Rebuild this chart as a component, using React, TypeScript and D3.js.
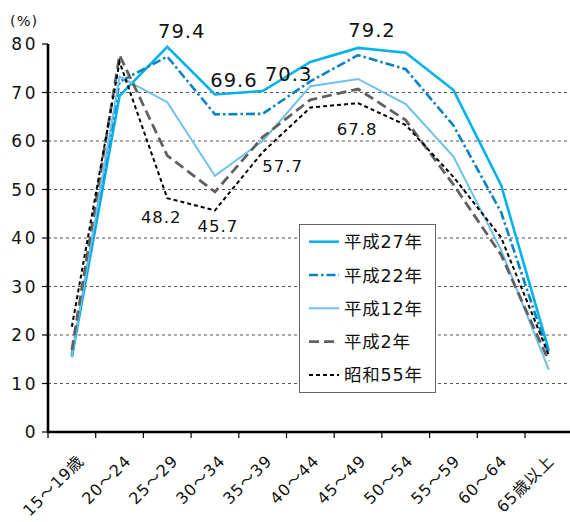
import React from "react";
import * as d3 from "d3";

const categories = ["15～19歳", "20～24", "25～29", "30～34", "35～39", "40～44", "45～49", "50～54", "55～59", "60～64", "65歳以上"];
const seriesNames = ["平成27年", "平成22年", "平成12年", "平成2年", "昭和55年"];
const h27 = [15.4, 69.3, 79.4, 69.6, 70.3, 76.3, 79.2, 78.2, 70.5, 50.9, 16.8];
const h22 = [15.8, 72.2, 77.4, 65.5, 65.6, 72.3, 77.7, 74.8, 63.2, 45.3, 15.9];
const h12 = [15.5, 73.3, 68.0, 52.8, 60.0, 71.3, 72.8, 67.6, 56.8, 37.5, 12.8];
const h2 = [16.9, 77.7, 57.0, 49.5, 60.8, 68.5, 70.7, 64.3, 51.0, 36.5, 14.6];
const s55 = [21.7, 76.3, 48.2, 45.7, 57.7, 66.9, 67.8, 63.3, 52.6, 40.1, 15.8];
const yTicks = [0, 10, 20, 30, 40, 50, 60, 70, 80];
// annotations: series index, category index
const annotations = [
  { s: 0, c: 2, text: "79.4" },
  { s: 0, c: 3, text: "69.6" },
  { s: 0, c: 4, text: "70.3" },
  { s: 0, c: 6, text: "79.2" },
  { s: 4, c: 2, text: "48.2" },
  { s: 4, c: 3, text: "45.7" },
  { s: 4, c: 4, text: "57.7" },
  { s: 4, c: 6, text: "67.8" },
];
const annotationOffsets = [
  [14.5, -8.6, 19.5], [19, -7.4, 19.5], [26, -10, 19.5], [14, -11, 19.5],
  [-6, 25, 16.5], [3, 22, 16.5], [20, 19.5, 16.5], [-1, 32, 16.5],
];

const allSeries = [h27, h22, h12, h2, s55];
const styles = [
  { color: "#00B2EC", width: 2.6, dash: "" },
  { color: "#0A84C1", width: 2.6, dash: "9,3,2.5,3" },
  { color: "#6EC1E9", width: 2, dash: "" },
  { color: "#606060", width: 2.8, dash: "10,5" },
  { color: "#000000", width: 2, dash: "4,3" },
];

const W = 570, H = 522;
const left = 48, right = 572.7, top = 44, bottom = 432;
const NUM = "'DejaVu Sans', 'Noto Sans CJK JP', sans-serif";

export default function App() {
  const x = d3.scaleBand<string>().domain(categories).range([left, right]).paddingInner(0).paddingOuter(0);
  const bw = x.bandwidth();
  const cx = (c: string) => (x(c) as number) + bw / 2;
  const y = d3.scaleLinear().domain([0, 80]).range([bottom, top]);
  const labelX = d3.scalePoint<string>().domain(categories).range([85, 555]);
  const line = d3.line<number>().x((_, i) => cx(categories[i])).y((v) => y(v));
  const edges = categories.map((c) => x(c) as number).concat([right]);

  return (
    <svg width={W} height={H} style={{ position: "absolute", left: 0, top: 0, background: "#fff" }}>
      {/* gridlines */}
      {yTicks.filter((t) => t > 0 && t < 80).map((t) => (
        <line key={"g" + t} x1={left} x2={W} y1={y(t)} y2={y(t)} stroke="#555" strokeWidth={1.2} strokeDasharray="3,3" />
      ))}
      {/* y axis */}
      <line x1={left} x2={left} y1={top} y2={bottom + 1} stroke="#000" strokeWidth={2.6} />
      {yTicks.map((t) => (
        <g key={"y" + t}>
          <line x1={left - 6} x2={left} y1={y(t)} y2={y(t)} stroke="#000" strokeWidth={1.2} />
          <text x={38} y={y(t) + 6} textAnchor="end" fontFamily={NUM} fontSize={17} letterSpacing={2.5} fill="#111">{t}</text>
        </g>
      ))}
      <text x={10} y={26} fontFamily={NUM} fontSize={14.5} letterSpacing={1} fill="#111">(%)</text>
      {/* x axis */}
      <line x1={left - 1} x2={W} y1={bottom} y2={bottom} stroke="#000" strokeWidth={2.6} />
      {edges.map((e, i) => (
        <line key={"xt" + i} x1={e} x2={e} y1={bottom} y2={bottom + 6} stroke="#000" strokeWidth={1.2} />
      ))}
      {categories.map((c) => (
        <text key={"xl" + c} transform={`translate(${labelX(c)},${462}) rotate(-45)`} textAnchor="end" fontFamily={NUM} fontSize={16} letterSpacing={0.9} fill="#111">{c}</text>
      ))}
      {/* series lines */}
      {allSeries.map((s, i) => (
        <path key={"s" + i} d={line(s) || ""} fill="none" stroke={styles[i].color} strokeWidth={styles[i].width} strokeDasharray={styles[i].dash || undefined} strokeLinejoin="miter" />
      ))}
      {/* annotations */}
      {annotations.map((a, i) => (
        <text key={"a" + i} x={cx(categories[a.c]) + annotationOffsets[i][0]} y={y(allSeries[a.s][a.c]) + annotationOffsets[i][1]} textAnchor="middle" fontFamily={NUM} fontSize={annotationOffsets[i][2]} letterSpacing={1} fill="#111">{a.text}</text>
      ))}
      {/* legend */}
      <rect x={299.5} y={224.5} width={136} height={168} fill="#fff" stroke="#666" strokeWidth={1} />
      {seriesNames.map((n, i) => {
        const ly = 241.7 + i * 33.3;
        return (
          <g key={"lg" + i}>
            <line x1={309} x2={339} y1={ly} y2={ly} stroke={styles[i].color} strokeWidth={styles[i].width} strokeDasharray={styles[i].dash || undefined} />
            <text x={344} y={ly + 6.5} fontFamily={NUM} fontSize={17.5} letterSpacing={0.8} fill="#111">{n}</text>
          </g>
        );
      })}
    </svg>
  );
}
